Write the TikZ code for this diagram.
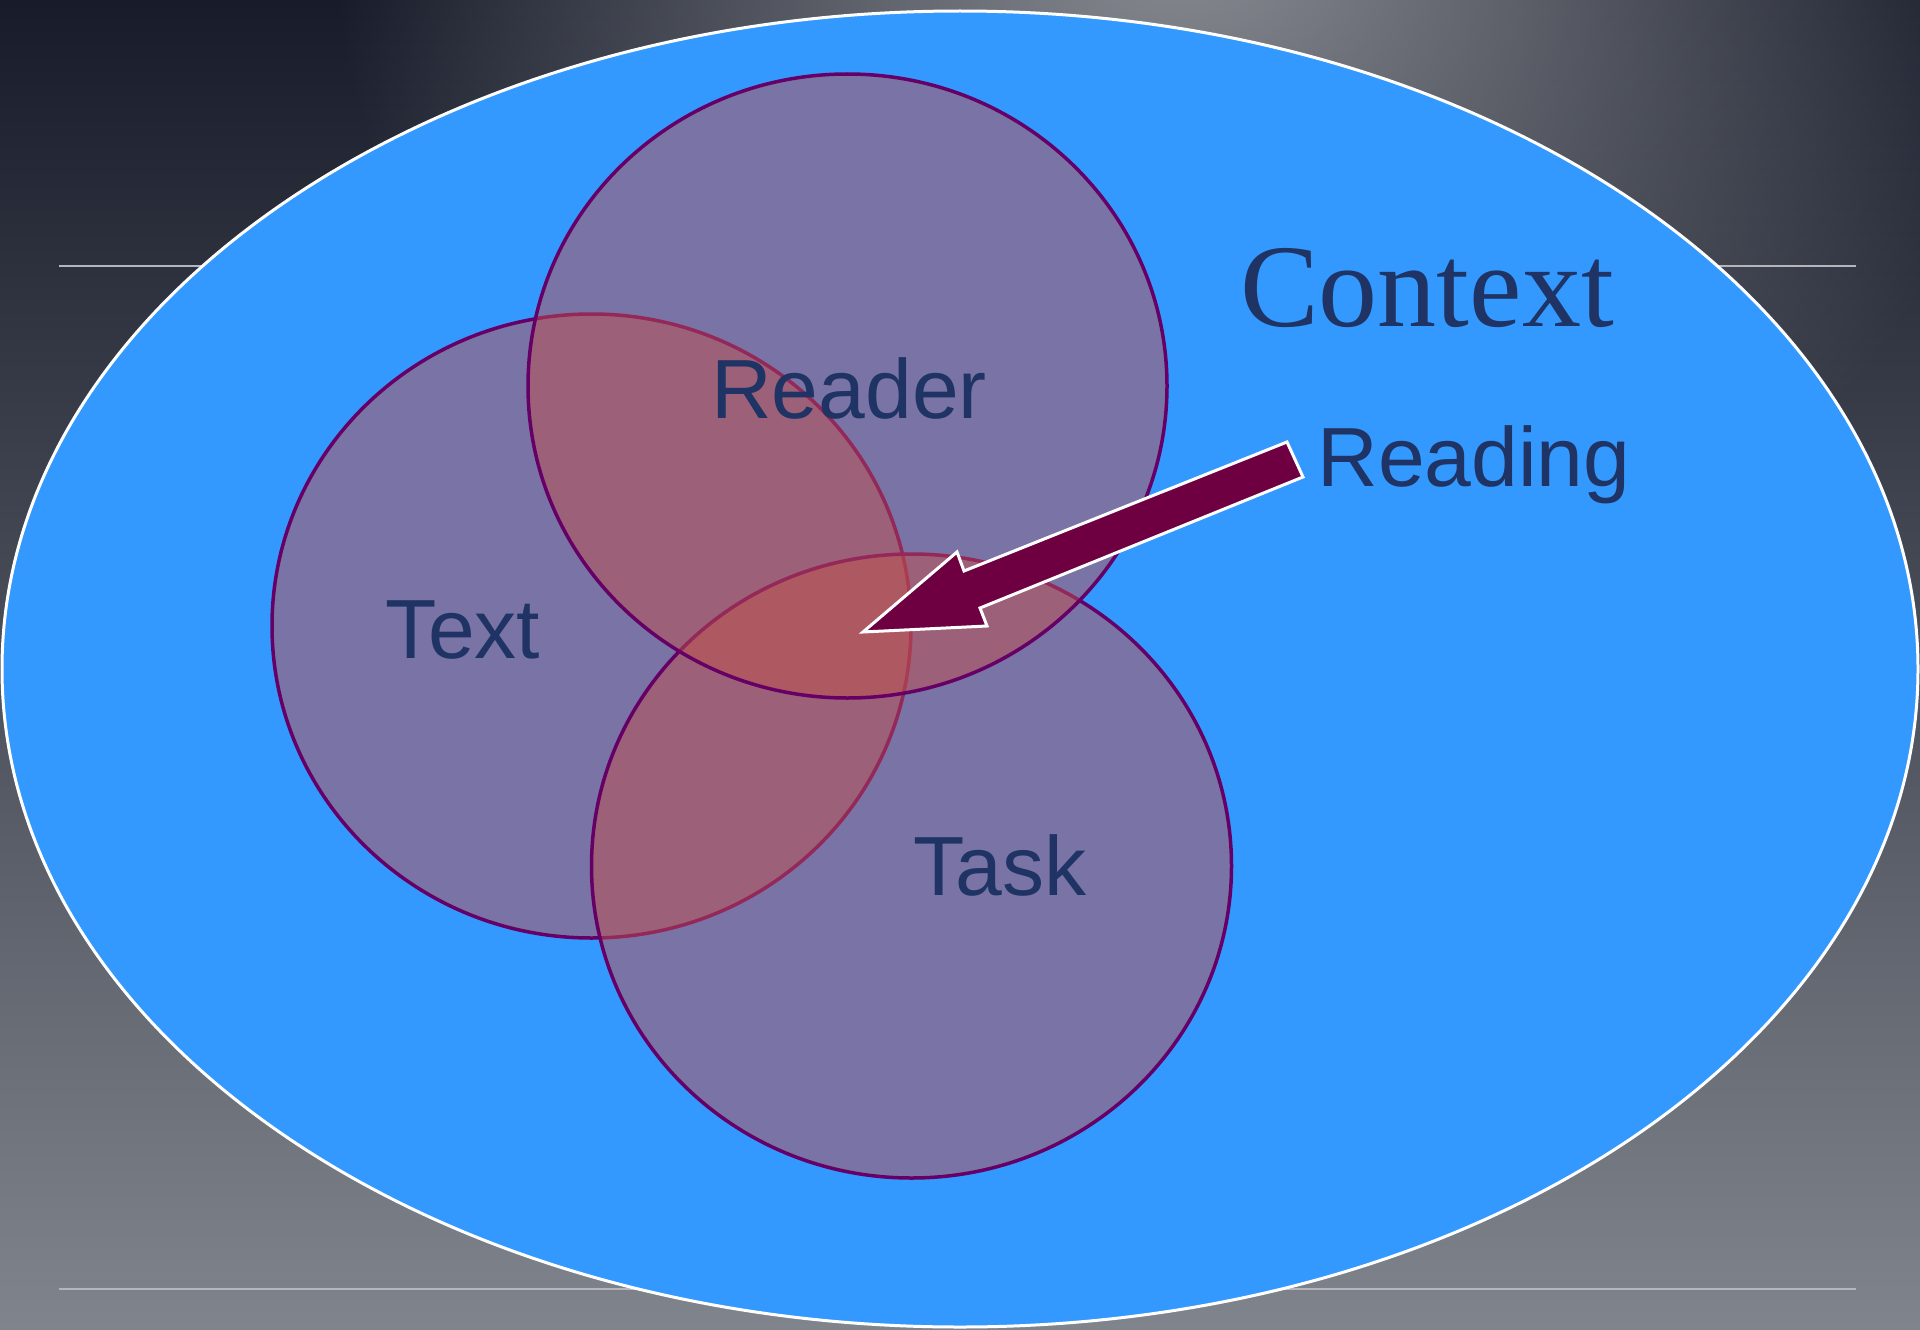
\documentclass[tikz,border=0pt]{standalone}
\usepackage{fontspec}
\setmainfont{Liberation Sans}
\newfontfamily\ctxfont{Liberation Serif}
\usetikzlibrary{fadings}
\definecolor{bgtop}{HTML}{181C2A}
\definecolor{bgbot}{HTML}{80848C}
\definecolor{bglight}{HTML}{8C8F95}
\definecolor{ctxblue}{HTML}{3399FF}
\definecolor{setred}{HTML}{C0504D}
\definecolor{setedge}{HTML}{660066}
\definecolor{labelnavy}{HTML}{1F3464}
\definecolor{arrowfill}{HTML}{6E0042}
\definecolor{rulegray}{HTML}{B4B6BC}
\tikzfading[name=radfade, inner color=transparent!0, outer color=transparent!100]
\tikzset{
  setcircle/.style={fill=setred, fill opacity=0.5, draw=setedge, draw opacity=1, line width=3.5pt},
  lbl/.style={text=labelnavy, inner sep=0pt, anchor=base, font=\fontsize{84}{100}\selectfont},
  ctxlbl/.style={text=labelnavy, inner sep=0pt, anchor=base, font=\ctxfont\fontsize{118}{130}\selectfont},
  rulestyle/.style={draw=rulegray, line width=1.5pt}
}
\begin{document}
\begin{tikzpicture}[x=1pt,y=-1pt]
\useasboundingbox (0,0) rectangle (1920,1330);
% background
\shade[top color=bgtop, bottom color=bgbot] (0,0) rectangle (1920,1330);
\begin{scope}
\clip (0,0) rectangle (1920,1330);
\fill[bglight, path fading=radfade] (1180,-80) ellipse (850 and 760);
\end{scope}
% rules
\coordinate (r1a) at (59,266);
\coordinate (r1b) at (1856,266);
\coordinate (r2a) at (59,1289);
\coordinate (r2b) at (1856,1289);
\draw[rulestyle] (r1a) -- (r1b);
\draw[rulestyle] (r2a) -- (r2b);
% context ellipse
\path[fill=ctxblue, draw=white, line width=3pt] (960,669) ellipse (958 and 658);
% set circles
\path[setcircle] (591.5,626) ellipse (319.5 and 312);
\path[setcircle] (911.5,866) ellipse (320 and 312);
\path[setcircle] (847.5,386) ellipse (319.5 and 312);
% arrow
\path[fill=arrowfill, draw=white, line width=3pt, line join=miter]
  (1287,442) -- (964,571) -- (957,552) -- (863,632) -- (987,626) -- (980,608) -- (1303,477) -- cycle;
% labels
\node[ctxlbl] (context) at (1427,326) {Context};
\node[lbl] (reading) at (1474,486) {Reading};
\node[lbl] (reader) at (849,418) {Reader};
\node[lbl] (text) at (463,658) {Text};
\node[lbl] (task) at (1000,895) {Task};
\end{tikzpicture}
\end{document}
